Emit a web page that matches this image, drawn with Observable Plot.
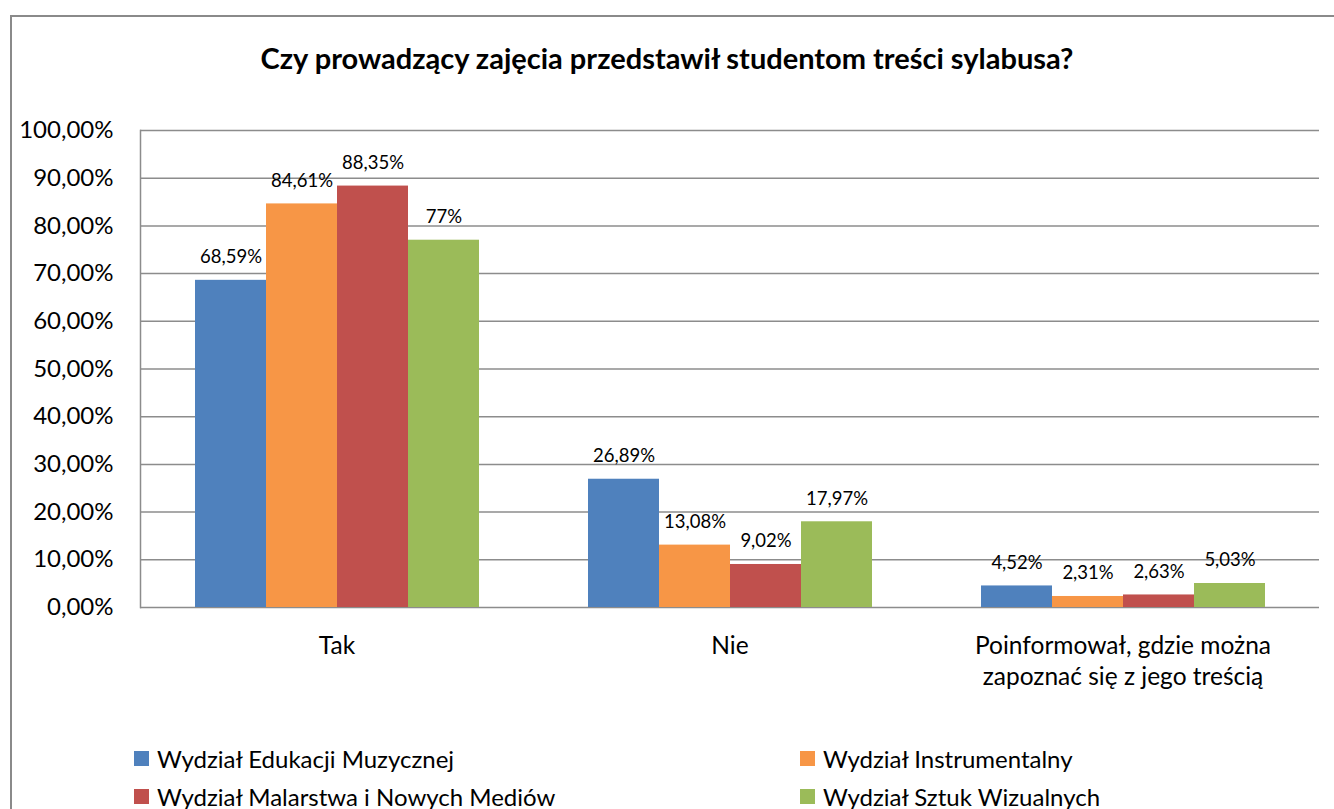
<!DOCTYPE html>
<html>
<head>
<meta charset="utf-8">
<script src="https://cdn.jsdelivr.net/npm/d3@7"></script>
<script src="https://cdn.jsdelivr.net/npm/@observablehq/plot@0.6"></script>
<style>
  html, body { margin: 0; padding: 0; background: #fff; }
  #wrap { position: relative; width: 1334px; height: 809px; overflow: hidden; font-family: Lato, "Noto Sans", sans-serif; color: #000; }
  #border { position: absolute; left: 10px; top: 15px; right: -10px; bottom: -10px; border-left: 2px solid #8a8a8a; border-top: 2px solid #8a8a8a; pointer-events: none; }
  #title { position: absolute; left: 0; top: 40px; width: 1334px; text-align: center; font-weight: bold; font-size: 29px; line-height: 36px; }
  #chart { position: absolute; left: 0; top: 80px; }
  .leg { position: absolute; display: flex; align-items: center; font-size: 24px; line-height: 28px; white-space: nowrap; }
  .sw { width: 15px; height: 15px; margin-right: 8px; flex: none; }
</style>
</head>
<body>
<div id="wrap">
  <div id="title"></div>
  <div id="chart"></div>
  <div id="legend"></div>
  <div id="border"></div>
</div>
<script>
const title = "Czy prowadzący zajęcia przedstawił studentom treści sylabusa?";
const categories = ["Tak", "Nie", "Poinformował, gdzie można\nzapoznać się z jego treścią"];
const series = ["Wydział Edukacji Muzycznej", "Wydział Instrumentalny", "Wydział Malarstwa i Nowych Mediów", "Wydział Sztuk Wizualnych"];
const colors = ["#4F81BD", "#F79646", "#C0504D", "#9BBB59"];
const valuesEdukacji = [68.59, 26.89, 4.52];
const valuesInstrumentalny = [84.61, 13.08, 2.31];
const valuesMalarstwa = [88.35, 9.02, 2.63];
const valuesSztuk = [77, 17.97, 5.03];
const labelsEdukacji = ["68,59%", "26,89%", "4,52%"];
const labelsInstrumentalny = ["84,61%", "13,08%", "2,31%"];
const labelsMalarstwa = ["88,35%", "9,02%", "2,63%"];
const labelsSztuk = ["77%", "17,97%", "5,03%"];
const yTicks = [0, 10, 20, 30, 40, 50, 60, 70, 80, 90, 100];

const allValues = [valuesEdukacji, valuesInstrumentalny, valuesMalarstwa, valuesSztuk];
const allLabels = [labelsEdukacji, labelsInstrumentalny, labelsMalarstwa, labelsSztuk];
const data = [];
categories.forEach((c, ci) => series.forEach((s, si) => {
  data.push({category: c, series: s, value: allValues[si][ci], label: allLabels[si][ci]});
}));

document.getElementById("title").textContent = title;

const grey = "#8c8c8c";
const chart = Plot.plot({
  width: 1334,
  height: 620,
  marginTop: 50,
  marginBottom: 93,
  marginLeft: 140,
  marginRight: 15,
  style: {fontFamily: "Lato, 'Noto Sans', sans-serif", fontSize: "24px", color: "#000", background: "transparent", overflow: "visible"},
  fx: {domain: categories, padding: 0, label: null},
  x: {domain: series, paddingInner: 0, paddingOuter: 0.748, axis: null},
  y: {domain: [0, 100], label: null},
  color: {domain: series, range: colors},
  marks: [
    Plot.gridY(yTicks, {stroke: grey, strokeOpacity: 1, strokeWidth: 1.5}),
    Plot.barY(data, {fx: "category", x: "series", y: "value", fill: "series"}),
    Plot.text(data, {fx: "category", x: "series", y: "value", text: "label", dy: -23, fontSize: 18.5, lineAnchor: "middle", fill: "#000"}),
    Plot.axisY(yTicks, {tickSize: 0, tickPadding: 27, fontSize: 24, label: null,
      tickFormat: d => d.toFixed(2).replace(".", ",") + "%"}),
    Plot.axisFx({anchor: "bottom", tickSize: 0, tickPadding: 24, fontSize: 24.5, lineHeight: 1.27, label: null}),
    Plot.frame({anchor: "left", facetAnchor: "left", stroke: grey, strokeWidth: 1.5})
  ]
});
document.getElementById("chart").appendChild(chart);

const legend = document.getElementById("legend");
const legPos = [[134, 758.5], [800, 758.5], [134, 796.5], [800, 796.5]];
series.forEach((s, i) => {
  const d = document.createElement("div");
  d.className = "leg";
  d.style.left = legPos[i][0] + "px";
  d.style.top = (legPos[i][1] - 14) + "px";
  const sw = document.createElement("span");
  sw.className = "sw";
  sw.style.background = colors[i];
  const t = document.createElement("span");
  t.textContent = s;
  d.appendChild(sw); d.appendChild(t);
  legend.appendChild(d);
});
</script>
</body>
</html>
